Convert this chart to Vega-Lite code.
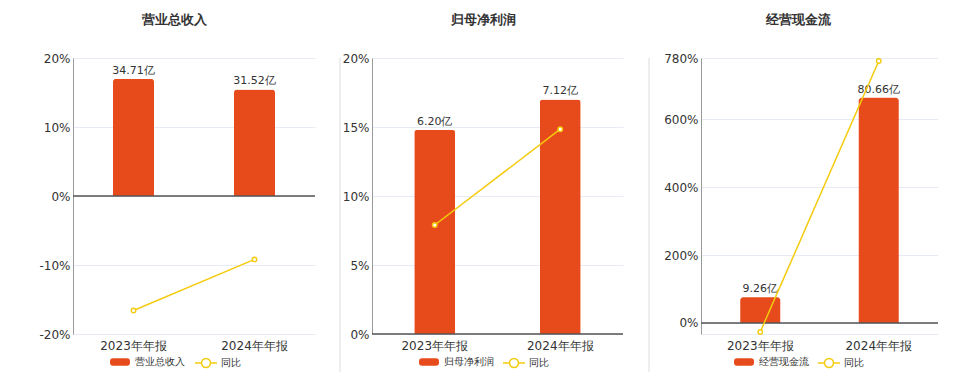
{
  "$schema": "https://vega.github.io/schema/vega-lite/v6.json",
  "padding": {"left": 13, "top": 14, "right": 0, "bottom": 0},
  "spacing": 0,
  "config": {
    "font": "DejaVu Sans",
    "view": {"stroke": null},
    "axis": {"labelFont": "DejaVu Sans", "labelColor": "#333", "labelFontSize": 12},
    "title": {"font": "DejaVu Sans", "fontSize": 13, "fontWeight": "bold", "color": "#333", "frame": "group", "offset": 25},
    "legend": {"labelFont": "DejaVu Sans", "labelFontSize": 10, "labelColor": "#333", "orient": "none", "direction": "horizontal", "title": null, "symbolOpacity": 1}
  },
  "resolve": {"scale": {"fill": "independent", "stroke": "independent"}, "legend": {"fill": "independent", "stroke": "independent"}},
  "hconcat": [
    {
      "width": 242, "height": 276,
      "title": {"text": "营业总收入", "dx": -20},
      "data": {"values": [
        {"period": "2023年年报", "value": 34.71, "label": "34.71亿", "yoy": -16.6},
        {"period": "2024年年报", "value": 31.52, "label": "31.52亿", "yoy": -9.19}
      ]},
      "encoding": {"x": {"field": "period", "type": "nominal", "sort": null, "scale": {"paddingInner": 0, "paddingOuter": 0}, "axis": {"title": null, "labelAngle": 0, "domain": false, "ticks": false, "labelPadding": 6}}},
      "layer": [
        {
          "encoding": {"y": {"field": "value", "type": "quantitative", "scale": {"domain": [-40.84, 40.84], "nice": false, "zero": false}, "axis": null}},
          "layer": [
            {"mark": {"type": "bar", "width": 41, "cornerRadiusTopLeft": 3, "cornerRadiusTopRight": 3},
             "encoding": {"fill": {"datum": "营业总收入", "type": "nominal", "scale": {"domain": ["营业总收入"], "range": ["#E84B1B"]},
               "legend": {"legendX": 37, "legendY": 294, "symbolSize": 400, "symbolStrokeWidth": 0, "labelOffset": 5,
                 "symbolType": "M-0.7,-0.38L0.7,-0.38Q1,-0.38,1,-0.08L1,0.08Q1,0.38,0.7,0.38L-0.7,0.38Q-1,0.38,-1,0.08L-1,-0.08Q-1,-0.38,-0.7,-0.38Z"}}}},
            {"mark": {"type": "text", "baseline": "alphabetic", "dy": -5, "fontSize": 11, "color": "#333"}, "encoding": {"text": {"field": "label"}}}
          ]
        },
        {
          "encoding": {"y": {"field": "yoy", "type": "quantitative", "scale": {"domain": [-20, 20], "nice": false, "zero": false},
            "axis": {"title": null, "values": [-20, -10, 0, 10, 20], "labelExpr": "datum.value + '%'", "grid": true, "gridColor": "#E6EBF5", "domain": true, "domainColor": "#999", "ticks": false, "labelPadding": 3, "minExtent": 60}}},
          "layer": [
            {"mark": {"type": "rule", "color": "#555", "strokeWidth": 1.2}, "encoding": {"y": {"datum": 0, "type": "quantitative"}, "x": {"value": 0}, "x2": {"value": 242}}},
            {"mark": {"type": "line", "strokeWidth": 1.5},
             "encoding": {"stroke": {"datum": "同比", "type": "nominal", "scale": {"domain": ["同比"], "range": ["#F4CB0E"]},
               "legend": {"legendX": 121, "legendY": 293, "symbolSize": 484, "symbolStrokeWidth": 1.5, "symbolFillColor": "#ffffff", "labelOffset": 3,
                 "symbolType": "M-1,0L-0.41,0M0.41,0L1,0M-0.41,0A0.41,0.41,0,1,1,0.41,0A0.41,0.41,0,1,1,-0.41,0"}}}},
            {"mark": {"type": "point", "filled": false, "fill": "#fff", "size": 20, "strokeWidth": 1.4, "opacity": 1}, "encoding": {"stroke": {"datum": "同比", "type": "nominal"}}}
          ]
        }
      ],
      "resolve": {"scale": {"y": "independent"}}
    },
    {
      "width": 24, "height": 358,
      "data": {"values": [{"s": 1}]},
      "mark": {"type": "rule", "color": "#dcdcdc", "strokeWidth": 1},
      "encoding": {"x": {"datum": 1, "type": "quantitative", "scale": {"domain": [0, 1]}, "axis": null}}
    },
    {
      "width": 251, "height": 276,
      "title": {"text": "归母净利润", "dx": -14},
      "data": {"values": [
        {"period": "2023年年报", "value": 6.20, "label": "6.20亿", "yoy": 7.9},
        {"period": "2024年年报", "value": 7.12, "label": "7.12亿", "yoy": 14.84}
      ]},
      "encoding": {"x": {"field": "period", "type": "nominal", "sort": null, "scale": {"paddingInner": 0, "paddingOuter": 0}, "axis": {"title": null, "labelAngle": 0, "domain": false, "ticks": false, "labelPadding": 6}}},
      "layer": [
        {
          "encoding": {"y": {"field": "value", "type": "quantitative", "scale": {"domain": [0, 8.376], "nice": false, "zero": false}, "axis": null}},
          "layer": [
            {"mark": {"type": "bar", "width": 41, "cornerRadiusTopLeft": 3, "cornerRadiusTopRight": 3},
             "encoding": {"fill": {"datum": "归母净利润", "type": "nominal", "scale": {"domain": ["归母净利润"], "range": ["#E84B1B"]},
               "legend": {"legendX": 47, "legendY": 294, "symbolSize": 400, "symbolStrokeWidth": 0, "labelOffset": 5,
                 "symbolType": "M-0.7,-0.38L0.7,-0.38Q1,-0.38,1,-0.08L1,0.08Q1,0.38,0.7,0.38L-0.7,0.38Q-1,0.38,-1,0.08L-1,-0.08Q-1,-0.38,-0.7,-0.38Z"}}}},
            {"mark": {"type": "text", "baseline": "alphabetic", "dy": -5, "fontSize": 11, "color": "#333"}, "encoding": {"text": {"field": "label"}}}
          ]
        },
        {
          "encoding": {"y": {"field": "yoy", "type": "quantitative", "scale": {"domain": [0, 20], "nice": false, "zero": false},
            "axis": {"title": null, "values": [0, 5, 10, 15, 20], "labelExpr": "datum.value + '%'", "grid": true, "gridColor": "#E6EBF5", "domain": true, "domainColor": "#999", "ticks": false, "labelPadding": 3, "minExtent": 31}}},
          "layer": [
            {"mark": {"type": "rule", "color": "#555", "strokeWidth": 1.2}, "encoding": {"y": {"datum": 0, "type": "quantitative"}, "x": {"value": 0}, "x2": {"value": 251}}},
            {"mark": {"type": "line", "strokeWidth": 1.5},
             "encoding": {"stroke": {"datum": "同比", "type": "nominal", "scale": {"domain": ["同比"], "range": ["#F4CB0E"]},
               "legend": {"legendX": 130, "legendY": 293, "symbolSize": 484, "symbolStrokeWidth": 1.5, "symbolFillColor": "#ffffff", "labelOffset": 3,
                 "symbolType": "M-1,0L-0.41,0M0.41,0L1,0M-0.41,0A0.41,0.41,0,1,1,0.41,0A0.41,0.41,0,1,1,-0.41,0"}}}},
            {"mark": {"type": "point", "filled": false, "fill": "#fff", "size": 20, "strokeWidth": 1.4, "opacity": 1}, "encoding": {"stroke": {"datum": "同比", "type": "nominal"}}}
          ]
        }
      ],
      "resolve": {"scale": {"y": "independent"}}
    },
    {
      "width": 25, "height": 358,
      "data": {"values": [{"s": 1}]},
      "mark": {"type": "rule", "color": "#dcdcdc", "strokeWidth": 1},
      "encoding": {"x": {"datum": 1, "type": "quantitative", "scale": {"domain": [0, 1]}, "axis": null}}
    },
    {
      "width": 237, "height": 276,
      "title": {"text": "经营现金流", "dx": -21},
      "data": {"values": [
        {"period": "2023年年报", "value": 9.26, "label": "9.26亿", "yoy": -26.5},
        {"period": "2024年年报", "value": 80.66, "label": "80.66亿", "yoy": 771.06}
      ]},
      "encoding": {"x": {"field": "period", "type": "nominal", "sort": null, "scale": {"paddingInner": 0, "paddingOuter": 0}, "axis": {"title": null, "labelAngle": 0, "domain": false, "ticks": false, "labelPadding": 6}}},
      "layer": [
        {
          "encoding": {"y": {"field": "value", "type": "quantitative", "scale": {"domain": [-3.94, 94.89], "nice": false, "zero": false}, "axis": null}},
          "layer": [
            {"mark": {"type": "bar", "width": 40, "cornerRadiusTopLeft": 3, "cornerRadiusTopRight": 3},
             "encoding": {"y2": {"datum": 0}, "fill": {"datum": "经营现金流", "type": "nominal", "scale": {"domain": ["经营现金流"], "range": ["#E84B1B"]},
               "legend": {"legendX": 33, "legendY": 294, "symbolSize": 400, "symbolStrokeWidth": 0, "labelOffset": 5,
                 "symbolType": "M-0.7,-0.38L0.7,-0.38Q1,-0.38,1,-0.08L1,0.08Q1,0.38,0.7,0.38L-0.7,0.38Q-1,0.38,-1,0.08L-1,-0.08Q-1,-0.38,-0.7,-0.38Z"}}}},
            {"mark": {"type": "text", "baseline": "alphabetic", "dy": -5, "fontSize": 11, "color": "#333"}, "encoding": {"text": {"field": "label"}}}
          ]
        },
        {
          "encoding": {"y": {"field": "yoy", "type": "quantitative", "scale": {"domain": [-32.4, 780], "nice": false, "zero": false},
            "axis": {"title": null, "values": [-32.4, 0, 200, 400, 600, 780], "labelExpr": "datum.value < -30 ? '' : datum.value + '%'", "grid": true, "gridColor": "#E6EBF5", "domain": true, "domainColor": "#999", "ticks": false, "labelPadding": 3, "minExtent": 51}}},
          "layer": [
            {"mark": {"type": "rule", "color": "#555", "strokeWidth": 1.2}, "encoding": {"y": {"datum": 0, "type": "quantitative"}, "x": {"value": 0}, "x2": {"value": 237}}},
            {"mark": {"type": "line", "strokeWidth": 1.5},
             "encoding": {"stroke": {"datum": "同比", "type": "nominal", "scale": {"domain": ["同比"], "range": ["#F4CB0E"]},
               "legend": {"legendX": 116, "legendY": 293, "symbolSize": 484, "symbolStrokeWidth": 1.5, "symbolFillColor": "#ffffff", "labelOffset": 3,
                 "symbolType": "M-1,0L-0.41,0M0.41,0L1,0M-0.41,0A0.41,0.41,0,1,1,0.41,0A0.41,0.41,0,1,1,-0.41,0"}}}},
            {"mark": {"type": "point", "filled": false, "fill": "#fff", "size": 20, "strokeWidth": 1.4, "opacity": 1}, "encoding": {"stroke": {"datum": "同比", "type": "nominal"}}}
          ]
        }
      ],
      "resolve": {"scale": {"y": "independent"}}
    }
  ]
}
